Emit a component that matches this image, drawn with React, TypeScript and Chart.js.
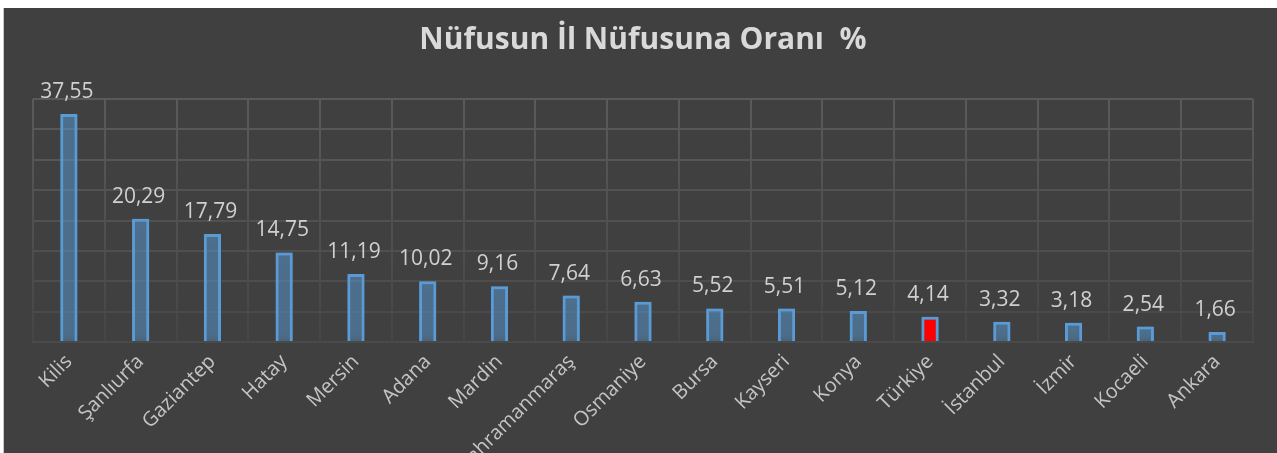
import React, { useEffect, useRef } from "react";
import { Chart, registerables } from "chart.js";

Chart.register(...registerables);

const categories = [
  "Kilis", "Şanlıurfa", "Gaziantep", "Hatay", "Mersin", "Adana", "Mardin",
  "Kahramanmaraş", "Osmaniye", "Bursa", "Kayseri", "Konya", "Türkiye",
  "İstanbul", "İzmir", "Kocaeli", "Ankara",
];
const values = [37.55, 20.29, 17.79, 14.75, 11.19, 10.02, 9.16, 7.64, 6.63, 5.52, 5.51, 5.12, 4.14, 3.32, 3.18, 2.54, 1.66];
const highlight = "Türkiye";
const titleText = "Nüfusun İl Nüfusuna Oranı  %";
const yMax = 40;
const yStep = 5;

const FONT = "'Open Sans', 'DejaVu Sans', sans-serif";

const glowPlugin = {
  id: "glow",
  beforeDatasetDraw(chart: any) {
    const ctx = chart.ctx;
    ctx.save();
    ctx.shadowColor = "rgba(91,155,213,0.8)";
    ctx.shadowBlur = 10;
  },
  afterDatasetDraw(chart: any) {
    chart.ctx.restore();
  },
};

const labelPlugin = {
  id: "valueLabels",
  afterDatasetsDraw(chart: any) {
    const ctx = chart.ctx;
    const meta = chart.getDatasetMeta(0);
    ctx.save();
    ctx.font = `21px ${FONT}`;
    ctx.fillStyle = "#d0d0d0";
    ctx.textAlign = "center";
    ctx.textBaseline = "alphabetic";
    meta.data.forEach((bar: any, i: number) => {
      const txt = values[i].toFixed(2).replace(".", ",");
      ctx.fillText(txt, bar.x - 2, bar.y - 16);
    });
    ctx.restore();
  },
};

export default function App() {
  const ref = useRef<HTMLCanvasElement>(null);
  useEffect(() => {
    if (!ref.current) return;
    const chart = new Chart(ref.current, {
      type: "bar",
      data: {
        labels: categories,
        datasets: [
          {
            data: values,
            backgroundColor: categories.map((c) => (c === highlight ? "#ff0000" : "rgba(91,155,213,0.3)")),
            borderColor: "#5b9bd5",
            borderWidth: 3,
            barPercentage: 0.24,
            categoryPercentage: 1,
          },
        ],
      },
      options: {
        animation: false,
        responsive: false,
        maintainAspectRatio: false,
        layout: { padding: { left: 29, right: 24, top: 0, bottom: 0 } },
        plugins: {
          legend: { display: false },
          tooltip: { enabled: false },
          title: {
            display: true,
            text: titleText,
            color: "#d9d9d9",
            font: { family: FONT, size: 30, weight: "bold" },
            padding: { top: 14, bottom: 41 },
          },
        },
        scales: {
          x: {
            grid: {
              display: true,
              drawTicks: false,
              color: (ctx: any) => {
                const ca = ctx.chart.chartArea;
                if (!ca) return "#555555";
                const g = ctx.chart.ctx.createLinearGradient(0, ca.top, 0, ca.bottom);
                g.addColorStop(0, "#5a5a5a");
                g.addColorStop(1, "#464646");
                return g;
              },
              lineWidth: 2,
            },
            border: { display: true, color: "#4a4a4a", width: 2 },
            ticks: {
              color: "#c4c4c4",
              font: { family: FONT, size: 20 },
              minRotation: 45,
              maxRotation: 45,
              autoSkip: false,
              padding: 8,
            },
            afterFit: (scale: any) => {
              scale.height = 111;
            },
          },
          y: {
            min: 0,
            max: yMax,
            ticks: { display: false, stepSize: yStep },
            grid: {
              drawTicks: false,
              lineWidth: 2,
              color: (ctx: any) => {
                const v = ctx.tick ? ctx.tick.value : 0;
                const t = v / yMax;
                const c = Math.round(0x48 + (0x5a - 0x48) * t);
                return `rgb(${c},${c},${c})`;
              },
            },
            border: { display: false },
          },
        },
      },
      plugins: [glowPlugin, labelPlugin],
    });
    return () => chart.destroy();
  }, []);
  return (
    <div
      style={{
        position: "fixed",
        left: 3,
        top: 8,
        width: 1273,
        height: 445,
        background: "#404040",
        borderLeft: "1px solid #c8c8c8",
      }}
    >
      <canvas ref={ref} width={1273} height={445} style={{ display: "block" }} />
    </div>
  );
}
